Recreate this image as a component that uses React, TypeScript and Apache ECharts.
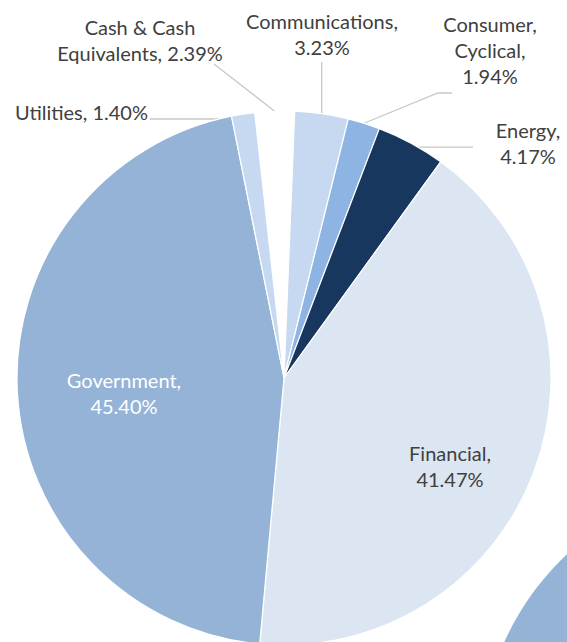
import React, { useEffect, useRef } from "react";
import * as echarts from "echarts";

// ---- data ----
const categories = [
  "Cash & Cash Equivalents",
  "Communications",
  "Consumer, Cyclical",
  "Energy",
  "Financial",
  "Government",
  "Utilities",
];
const shares = [2.39, 3.23, 1.94, 4.17, 41.47, 45.4, 1.4];
const labelNames = [
  "Cash & Cash\nEquivalents",
  "Communications",
  "Consumer,\nCyclical",
  "Energy",
  "Financial",
  "Government",
  "Utilities",
];
const labelSeparators = [", ", ",\n", ",\n", ",\n", ",\n", ",\n", ", "];
const sliceColors = ["#ffffff", "#c6d9f1", "#8eb4e3", "#17375e", "#dce6f2", "#95b3d7", "#c6d9f0"];

// neighbouring (cropped) chart
const neighbourCategories = ["Government"];
const neighbourShares = [100];

// ---- layout (positions of labels / leader lines) ----
type Pt = [number, number];
const labelSpots: Record<number, { x: number; y: number; align: string; line?: (s: Pt) => Pt[] }> = {
  0: { x: 140, y: 40, align: "center", line: (s) => [s, [214, 64]] },
  1: { x: 322, y: 34, align: "center", line: (s) => [s, [s[0], 62]] },
  2: { x: 490, y: 50, align: "center", line: (s) => [s, [438, 93], [452, 93]] },
  3: { x: 528, y: 143, align: "center", line: (s) => [[s[0], s[1] + 4], [473, s[1] + 4]] },
  4: { x: 450, y: 466, align: "center" },
  5: { x: 124, y: 393, align: "center" },
  6: { x: 148, y: 112, align: "right", line: (s) => [[s[0], 119], [150, 119]] },
};

const FONT = "Lato, 'Noto Sans', sans-serif";

export default function App() {
  const ref = useRef<HTMLDivElement>(null);
  useEffect(() => {
    if (!ref.current) return;
    const chart = echarts.init(ref.current, null, { renderer: "svg" });
    const insideIdx = [4, 5];
    chart.setOption({
      animation: false,
      backgroundColor: "#ffffff",
      series: [
        {
          type: "pie",
          silent: true,
          center: [755, 755],
          radius: 275,
          label: { show: false },
          labelLine: { show: false },
          itemStyle: { color: "#95b3d7" },
          data: neighbourCategories.map((n, i) => ({ name: n, value: neighbourShares[i] })),
        },
        {
          type: "pie",
          center: [284, 378],
          radius: 267,
          startAngle: 96.3,
          clockwise: true,
          avoidLabelOverlap: false,
          itemStyle: { borderColor: "#ffffff", borderWidth: 1.2 },
          label: {
            fontFamily: FONT,
            fontSize: 20,
            lineHeight: 26,
            color: "#404040",
            align: "center",
          },
          labelLine: {
            show: true,
            lineStyle: { color: "#c8c8c8", width: 1.3 },
          },
          data: categories.map((name, i) => {
            const inside = insideIdx.includes(i);
            return {
              name,
              value: shares[i],
              itemStyle: { color: sliceColors[i] },
              label: {
                position: inside ? "inside" : "outside",
                color: i === 5 ? "#ffffff" : "#404040",
                formatter: () => `${labelNames[i]}${labelSeparators[i]}${shares[i].toFixed(2)}%`,
              },
              labelLine: { show: !inside, length: 10, length2: 10 },
            };
          }),
          labelLayout: (p: any) => {
            const spot = labelSpots[p.dataIndex];
            if (!spot) return {};
            const out: any = {
              x: spot.x,
              y: spot.y,
              align: spot.align,
              verticalAlign: "middle",
            };
            if (spot.line && p.labelLinePoints && p.labelLinePoints.length) {
              const s = p.labelLinePoints[0] as Pt;
              out.labelLinePoints = spot.line([s[0], s[1]]);
            }
            return out;
          },
        },
      ],
    });
    return () => chart.dispose();
  }, []);
  return (
    <div
      ref={ref}
      style={{ position: "fixed", left: 0, top: 0, width: 567, height: 642, background: "#fff" }}
    />
  );
}
